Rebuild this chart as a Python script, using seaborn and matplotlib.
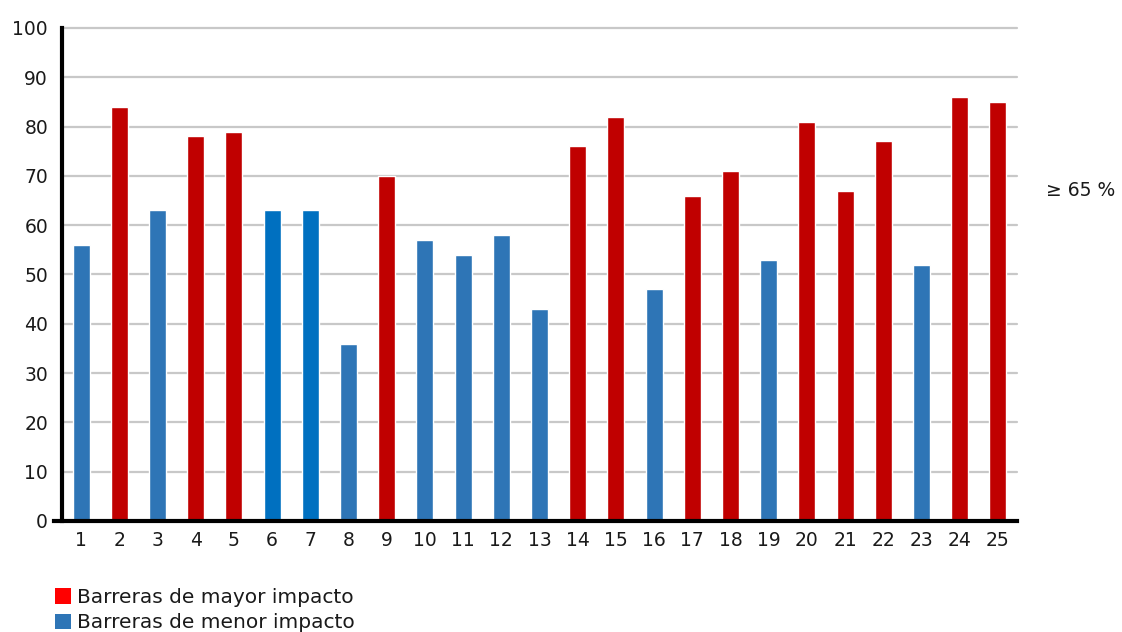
import matplotlib
matplotlib.use("Agg")
import matplotlib.pyplot as plt
from matplotlib.patches import Patch
from matplotlib.ticker import MultipleLocator
import seaborn as sns
import pandas as pd

# Barrier number, share of respondents (%) and impact group
barreras = [str(i) for i in range(1, 26)]
porcentaje = [56, 84, 63, 78, 79, 63, 63, 36, 70, 57, 54, 58, 43,
              76, 82, 47, 66, 71, 53, 81, 67, 77, 52, 86, 85]
impacto = ["mayor" if v >= 65 else "menor" for v in porcentaje]
tono = ["menor_b" if b in ("6", "7") else g for b, g in zip(barreras, impacto)]

etiquetas_leyenda = ["Barreras de mayor impacto", "Barreras de menor impacto"]
nota_umbral = "≥ 65 %"

df = pd.DataFrame({"barrera": barreras, "pct": porcentaje, "tono": tono})

colores = {"mayor": "#C00000", "menor": "#2E75B6", "menor_b": "#0070C0"}
texto = "#1a1a1a"

sns.set_theme(style="white")
plt.rcParams["font.family"] = ["DejaVu Sans"]

fig = plt.figure(figsize=(11.22, 6.32), dpi=100)
ax = fig.add_axes([62 / 1122, 1 - 521 / 632, (1017 - 62) / 1122, (521 - 28) / 632])

sns.barplot(data=df, x="barrera", y="pct", hue="tono", palette=colores,
            dodge=False, width=0.44, legend=False, ax=ax, zorder=3,
            saturation=1)

ax.set_xlim(-0.5, len(barreras) - 0.5)
ax.set_ylim(0, 100)
ax.yaxis.set_major_locator(MultipleLocator(10))
ax.grid(axis="y", color="#c8c8c8", linewidth=1.6, zorder=0)
ax.grid(axis="x", visible=False)
ax.set_axisbelow(True)
for gl in ax.get_ygridlines():
    gl.set_clip_on(False)
ax.set_xlabel("")
ax.set_ylabel("")

for s in ("top", "right"):
    ax.spines[s].set_visible(False)
for s in ("left", "bottom"):
    ax.spines[s].set_color("black")
    ax.spines[s].set_linewidth(3)
    ax.spines[s].set_zorder(5)
ax.spines["bottom"].set_bounds(-0.7, len(barreras) - 0.5)

ax.tick_params(axis="y", length=9, width=1.6, color="#c8c8c8", pad=1,
               labelsize=13.5, labelcolor=texto, direction="out")
ax.tick_params(axis="x", length=0, pad=7, labelsize=13.5, labelcolor=texto)

# small separators between categories below the axis
ax.set_xticks([i + 0.5 for i in range(len(barreras) - 1)], minor=True)
ax.tick_params(axis="x", which="minor", length=7, width=2, color="#d0d0d0",
               direction="out")

ax.text(1.03, 0.67, nota_umbral, transform=ax.transAxes, fontsize=13.5,
        color=texto, va="center", ha="left")

handles = [Patch(facecolor="#FF0000", edgecolor="none"),
           Patch(facecolor="#2E75B6", edgecolor="none")]
fig.legend(handles, etiquetas_leyenda, loc="upper left",
           bbox_to_anchor=(47 / 1122, 1 - 580 / 632), frameon=False,
           fontsize=14.5, handlelength=0.78, handleheight=0.78,
           handletextpad=0.3, labelspacing=0.3, borderaxespad=0,
           labelcolor=texto)

fig.savefig("out.png", dpi=100)
